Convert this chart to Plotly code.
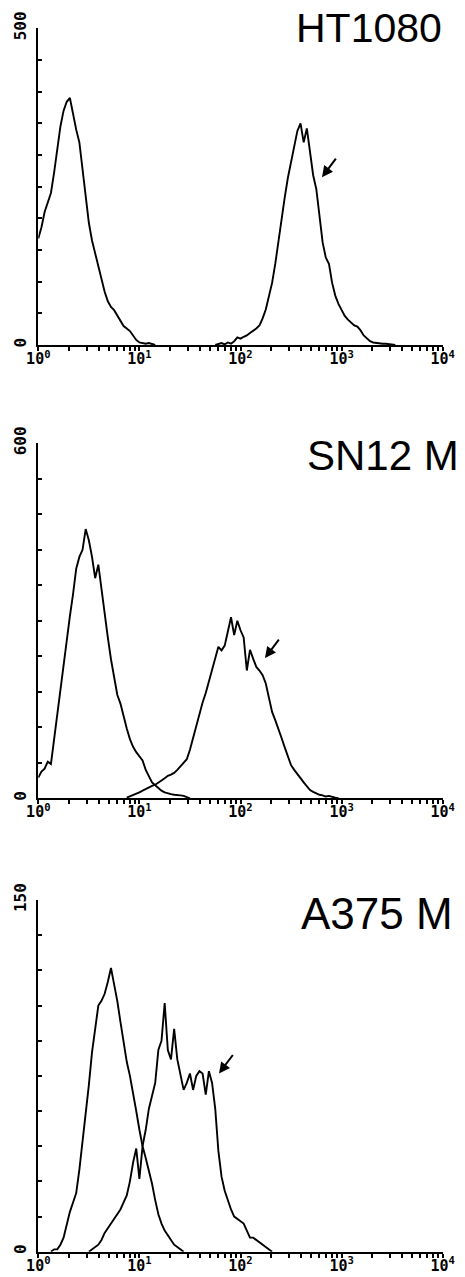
import numpy as np
import plotly.graph_objects as go

# Histogram bin grid: 32 channels per decade on a 4-decade log scale (channel index -> log10 fluorescence)
CH_PER_DECADE = 32

# ---------------- HT1080 ----------------
ht1080_ctrl_start = 0
ht1080_ctrl = [168, 186, 210, 226, 240, 272, 312, 345, 370, 384, 390, 362, 340, 320, 280, 234,
               193, 165, 145, 124, 104, 84, 69, 60, 55, 46, 37, 30, 26, 22, 15, 8, 4, 3, 2, 3, 1, 0]
ht1080_stain_start = 56
ht1080_stain = [0, 1, 3, 1, 4, 2, 6, 12, 10, 13, 15, 19, 22, 26, 31, 42, 56, 75, 98, 128, 165, 200,
                233, 264, 290, 315, 338, 350, 320, 342, 303, 268, 246, 208, 162, 138, 128, 98, 78,
                65, 55, 46, 40, 35, 31, 29, 23, 15, 10, 6, 4, 3, 3, 2, 2, 1, 1, 0]

# ---------------- SN12 M ----------------
sn12_ctrl_start = 0
sn12_ctrl = [35, 45, 50, 62, 58, 100, 138, 185, 230, 265, 308, 345, 388, 408, 420, 455, 436, 408,
             372, 395, 352, 310, 272, 235, 202, 175, 160, 137, 118, 100, 87, 78, 71, 64, 48, 36,
             27, 22, 17, 13, 10, 8, 7, 6, 6, 5, 4, 2, 0]
sn12_stain_start = 28
sn12_stain = [1, 3, 6, 8, 10, 13, 16, 18, 21, 23, 26, 30, 34, 38, 40, 43, 48, 54, 60, 66, 82, 102,
              124, 146, 162, 178, 198, 220, 240, 256, 250, 258, 282, 306, 276, 300, 284, 272, 216,
              251, 236, 222, 216, 208, 194, 170, 146, 132, 118, 102, 86, 70, 56, 48, 40, 34, 27,
              20, 14, 11, 8, 6, 5, 3, 4, 2, 1, 0]

# ---------------- A375 M ----------------
a375_ctrl_start = 4
a375_ctrl = [0, 1, 1, 3, 6, 12, 17, 21, 25, 35, 47, 57, 71, 85, 95, 105, 107, 110, 115, 121, 114,
             107, 98, 90, 81, 75, 68, 60, 52, 45, 40, 35, 29, 22, 16, 12, 9, 7, 5, 3, 2, 1, 0]
a375_stain_start = 16
a375_stain = [0, 1, 2, 3, 5, 8, 10, 12, 14, 16, 18, 21, 24, 30, 38, 44, 31, 45, 52, 61, 66, 72, 86,
              90, 106, 86, 82, 95, 82, 76, 69, 72, 76, 69, 75, 77, 76, 67, 77, 72, 61, 43, 32, 26,
              22, 18, 15, 14, 13, 12, 9, 6, 6, 5, 4, 3, 2, 1, 0]

panel_titles = ["HT1080", "SN12 M", "A375 M"]
panel_ymax = [500, 600, 150]
panel_ystep = [50, 60, 15]
decade_labels = ["10<sup>0</sup>", "10<sup>1</sup>", "10<sup>2</sup>", "10<sup>3</sup>", "10<sup>4</sup>"]
# arrow tips (log10 fluorescence, count) pointing at the stained population
arrow_log = [2.806, 2.242, 1.787]
arrow_count = [265, 237, 76]

panels = [
    [(ht1080_ctrl_start, ht1080_ctrl), (ht1080_stain_start, ht1080_stain)],
    [(sn12_ctrl_start, sn12_ctrl), (sn12_stain_start, sn12_stain)],
    [(a375_ctrl_start, a375_ctrl), (a375_stain_start, a375_stain)],
]

W, H = 465, 1277
x_dom = [38.3 / W, 442.7 / W]
# (top px, bottom px) of each plot area
y_px = [(28.3, 345.0), (443.3, 798.3), (900.0, 1251.7)]
title_right_px = [444, 461, 455]
title_mid_px = [27.5, 456, 913]
title_size = [41, 42, 44]

fig = go.Figure()
minor_x = [k + np.log10(d) for k in range(4) for d in range(2, 10)]
mono = "DejaVu Sans Mono"

for i, curves in enumerate(panels):
    xa = "x" if i == 0 else f"x{i+1}"
    ya = "y" if i == 0 else f"y{i+1}"
    for start, counts in curves:
        ch = start + np.arange(len(counts))
        fig.add_trace(go.Scatter(x=ch / CH_PER_DECADE, y=counts, mode="lines",
                                 line=dict(color="black", width=1.9), xaxis=xa, yaxis=ya,
                                 showlegend=False, hoverinfo="skip"))
    top, bot = y_px[i]
    ydom = [1 - bot / H, 1 - top / H]
    xkey = "xaxis" if i == 0 else f"xaxis{i+1}"
    ykey = "yaxis" if i == 0 else f"yaxis{i+1}"
    fig.update_layout(**{
        xkey: dict(domain=x_dom, anchor=ya, range=[0, 4], showgrid=False, zeroline=False,
                   showline=True, linecolor="black", linewidth=2, automargin=False,
                   tickmode="array", tickvals=[0, 1, 2, 3, 4], ticktext=decade_labels,
                   ticks="outside", ticklen=4, tickwidth=2, tickcolor="black",
                   minor=dict(tickmode="array", tickvals=minor_x, ticks="outside", ticklen=4,
                              tickwidth=1.5, tickcolor="black", showgrid=False),
                   tickfont=dict(family=mono, size=15, color="black", weight="bold"),
                   ticklabelstandoff=-5, fixedrange=True),
        ykey: dict(domain=ydom, anchor=xa, range=[0, panel_ymax[i]], showgrid=False,
                   zeroline=False, showline=True, linecolor="black", linewidth=2, automargin=False,
                   tickmode="array", tickvals=[0, panel_ymax[i]],
                   ticktext=["0", str(panel_ymax[i])], tickangle=-90,
                   ticks="inside", ticklen=4, tickwidth=1.5, tickcolor="black",
                   minor=dict(dtick=panel_ystep[i], tick0=0, ticks="inside", ticklen=4,
                              tickwidth=1.5, tickcolor="black", showgrid=False),
                   tickfont=dict(family=mono, size=16, color="black", weight="bold"),
                   ticklabelstandoff=4, fixedrange=True),
    })
    fig.add_annotation(xref="paper", yref="paper", x=title_right_px[i] / W,
                       y=1 - title_mid_px[i] / H, xanchor="right", yanchor="middle",
                       text=panel_titles[i], showarrow=False,
                       font=dict(family="Liberation Sans, Arial", size=title_size[i], color="black"))
    fig.add_annotation(xref=xa, yref=ya, x=arrow_log[i], y=arrow_count[i], text="",
                       showarrow=True, arrowhead=2, arrowsize=1.1, arrowwidth=2,
                       arrowcolor="black", ax=15, ay=-20)

fig.update_layout(width=W, height=H, margin=dict(l=0, r=0, t=0, b=0, autoexpand=False),
                  paper_bgcolor="white", plot_bgcolor="white", showlegend=False)
fig.write_html("out.html", config={"displayModeBar": False},
               post_script="document.body.style.margin='0';"
                           "document.body.style.overflow='hidden';")
